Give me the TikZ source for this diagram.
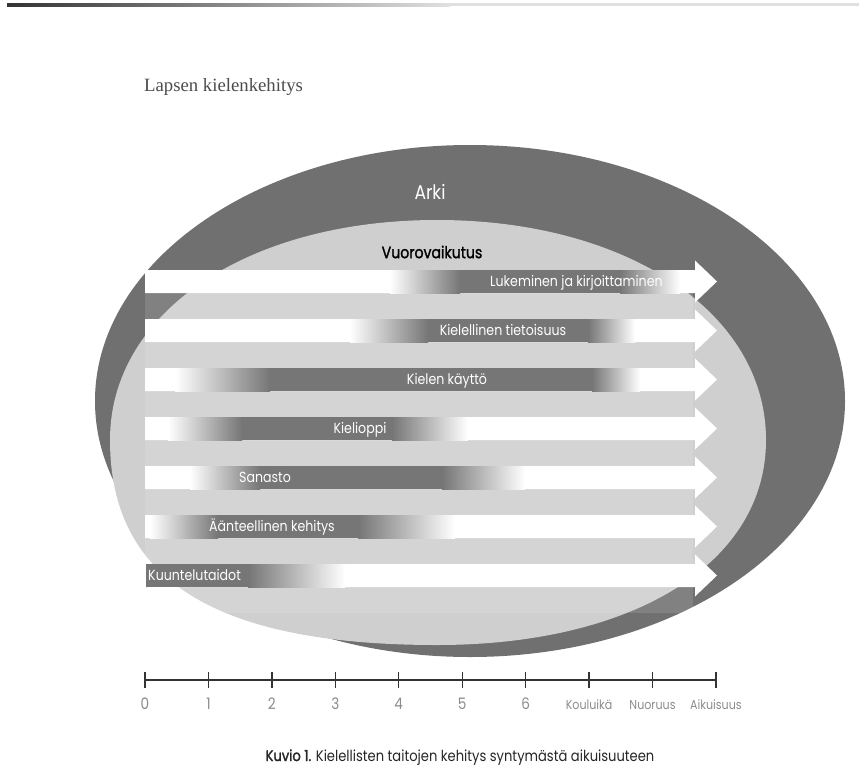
\documentclass[tikz,border=0pt]{standalone}
\usepackage{fontspec}
\setmainfont{Liberation Serif}
\newfontfamily\futura[FakeStretch=0.86]{Poppins}
\newfontfamily\futurabf[FakeStretch=0.86,FakeBold=1.5]{Poppins}
\usepackage{xcolor}
\usepackage{tikz}
\usetikzlibrary{calc}
\usetikzlibrary{positioning}
\definecolor{arkigray}{RGB}{112,112,112}
\definecolor{vuorogray}{RGB}{207,207,207}
\definecolor{bargray}{RGB}{118,118,118}
\newcommand{\agenum}[1]{\fontsize{13.5}{15}\selectfont #1}

\begin{document}
\begin{tikzpicture}[x=0.3mm, y=-0.3mm]
 	  \tikzstyle{lbl}=[font=\futura\fontsize{12.5}{14}\selectfont, text=white, inner sep=0pt, anchor=base]
 	  \tikzstyle{agelbl}=[font=\futura\fontsize{11}{13}\selectfont, text=black!45, inner sep=0pt, anchor=base]
\path[use as bounding box, fill=white] (0,0) rectangle (859,773);
% page edge
\shade[left color=black!80, right color=black!12] (7,3) rectangle (450,6);
\fill[black!12] (450,3) rectangle (859,6);
\node[font=\fontsize{16}{18}\selectfont, text=black!70, anchor=west] (title) at (140,87) {Lapsen kielenkehitys};
% Arki and Vuorovaikutus
\fill[arkigray] (470,401) ellipse [x radius=375, y radius=256];
\fill[vuorogray] (110,440) .. controls (110,312.4) and (247.3,220) .. (437,220)
   .. controls (626.7,220) and (766,312.4) .. (766,440)
   .. controls (766,563) and (634,645) .. (437,645)
   .. controls (214.6,645) and (110,579.4) .. (110,440) -- cycle;
\node[font=\futura\fontsize{17}{19}\selectfont, text=white] (arki) at (430,192) {Arki};
\node[font=\futurabf\fontsize{14}{16}\selectfont] (vuoro) at (432,252) {Vuorovaikutus};
\foreach \i/\y/\a/\b/\c/\d in {1/281.5/390/460/620/680, 2/330.5/350/428/588/635, 3/379.5/175/270/592/640,
      4/428.5/168/242/392/468, 5/477.5/190/260/442/525, 6/526.5/150/218/358/455, 7/575.5/145/146/248/345}{
    \fill[white, opacity=.12] (145,\y+11.5) rectangle (693,\y+37.5);
    \fill[white] (145,\y-11.5) -- (695,\y-11.5) -- (695,\y-21) -- (717,\y) -- (695,\y+21) -- (695,\y+11.5) -- (145,\y+11.5) -- cycle;
    \shade[left color=white, right color=bargray] (\a,\y-11.5) rectangle (\b,\y+11.5);
    \fill[bargray] (\b,\y-11.5) rectangle (\c,\y+11.5);
    \shade[left color=bargray, right color=white] (\c,\y-11.5) rectangle (\d,\y+11.5);
      }
\node[lbl, anchor=base west] (l_1) at (490,286) {Lukeminen ja kirjoittaminen};
\node[lbl] (l_2) at (503,335) {Kielellinen tietoisuus};
\node[lbl] (l_3) at (447,384) {Kielen käyttö};
\node[lbl] (l_4) at (360,433) {Kielioppi};
\node[lbl] (l_5) at (265,482) {Sanasto};
\node[lbl] (l_6) at (272,531) {Äänteellinen kehitys};
\node[lbl, anchor=base west] (l_7) at (148,580) {Kuuntelutaidot};
% age axis
\foreach \k/\t in {0/\agenum{0},1/\agenum{1},2/\agenum{2},3/\agenum{3},4/\agenum{4},5/\agenum{5},6/\agenum{6},7/Kouluikä,8/Nuoruus,9/Aikuisuus}{
    \coordinate (t_\k) at (145+63.44*\k,680);
    \draw[line width=1.2pt, black!80] (t_\k) ++(0,-8) -- ++(0,16);
    \node[agelbl] (n_\k) at (145+63.44*\k,709) {\t};
      }
\draw[line width=1.6pt, black!80] (t_0) -- (t_9);
\node[font=\futura\fontsize{13}{15}\selectfont, text=black!85, anchor=base] (caption) at (460,761)
   {{\futurabf Kuvio 1.} Kielellisten taitojen kehitys syntymästä aikuisuuteen};
   \end{tikzpicture}
\end{document}
